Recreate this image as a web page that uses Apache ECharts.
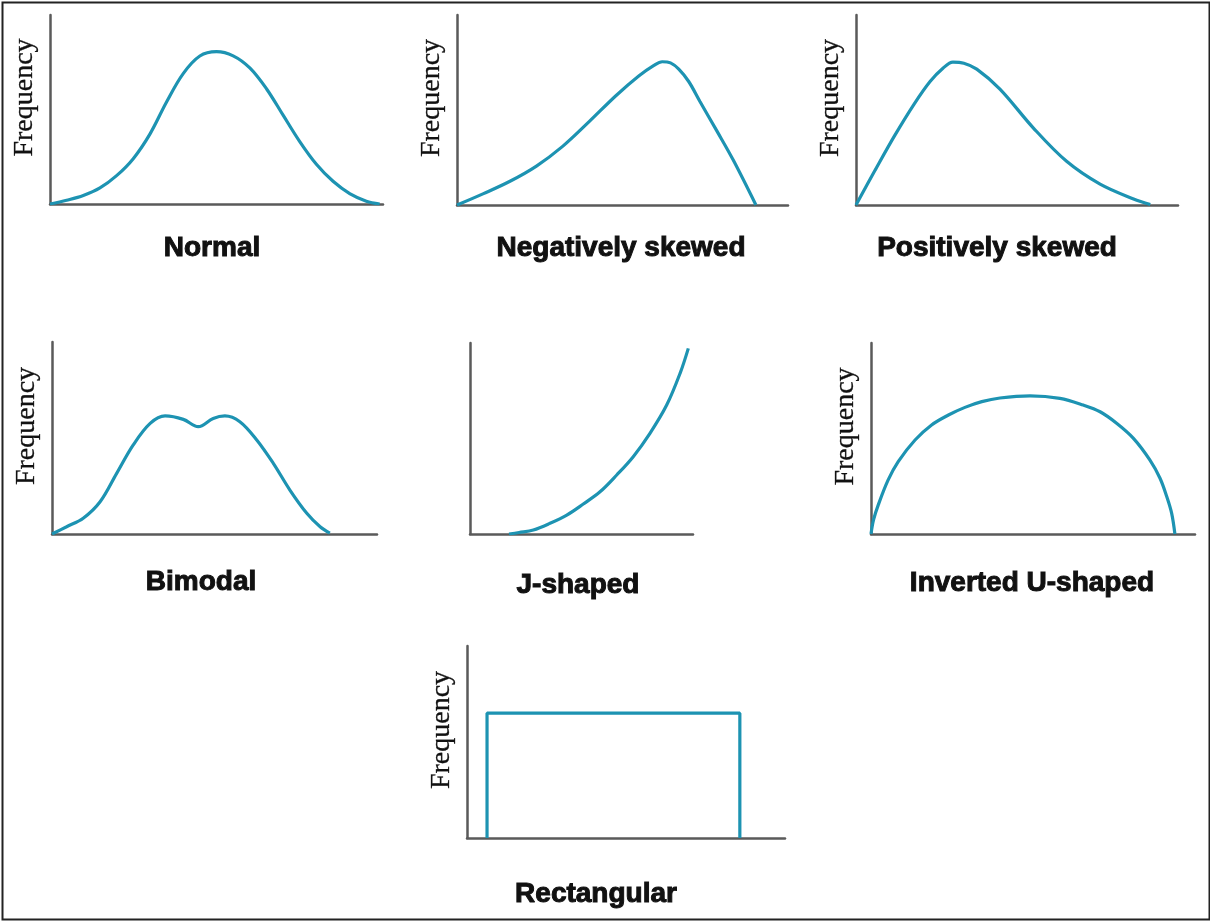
<!DOCTYPE html>
<html>
<head>
<meta charset="utf-8">
<script src="https://cdn.jsdelivr.net/npm/echarts@6/dist/echarts.min.js"></script>
<style>
    html, body { margin: 0; padding: 0; background: #fff; }
    #main { width: 1210px; height: 921px; }
</style>
</head>
<body>
<div id="main"></div>
<script>
// shapes, x and y both on a 0..100 scale of each panel
var normalData = [[0,0],[5,2],[10,4.5],[15,8.5],[20,15],[25,24],[30,37],[35,54],[40,69],[45,78.3],[50,80.6],[55,78.4],[60,72],[65,61],[70,47],[75,33],[80,21],[85,12],[90,5.5],[95,1.5],[99,0]];
var negSkewData = [[0,0],[8,6],[16,12.5],[24,20.5],[32,31],[40,44],[48,57.5],[55,68],[59.5,73.5],[62,75.4],[64.5,74.8],[67,71.5],[70,65],[73.4,54.5],[78.5,39],[83.5,23.5],[90.3,0]];
var posSkewData = [[0,0],[6,18.5],[12,36.5],[18,53],[23,65],[27,72],[30.1,75.2],[33.5,74.6],[37.5,71.5],[44.7,61],[55.1,40.5],[65.4,23],[75.8,11],[86.2,3.2],[91.4,0.3]];
var bimodalData = [[0,0],[4.5,3.8],[9.6,8.2],[14.8,16.8],[19.9,31.6],[25,46.4],[30.2,57.6],[34.8,61.5],[40.4,59.7],[45,55.9],[49.6,60.2],[53.2,61.5],[57.8,58.5],[63,49],[68.1,36.8],[73.2,22.9],[78.4,10.8],[82.5,3.8],[85.5,0.5]];
var jShapedData = [[17.5,0],[22,0.8],[28.4,2.1],[35.9,5.6],[43.4,9.9],[50.8,15.7],[58.3,22.1],[65.8,30.9],[73.2,40.5],[80.7,52.7],[88.2,67.5],[94.2,84.1],[97.9,97.2]];
var invertedUData = [[0,0],[0.8,7.5],[2.3,15.5],[5.3,28.3],[8.4,37.9],[13.6,49.2],[18.7,57.1],[23.9,62.3],[29,66.3],[34.2,69.3],[39.8,71.2],[49.1,72.3],[58.3,71],[65.5,67.5],[70.7,64],[75.8,58],[81,50.1],[86.1,38.7],[89.2,29.2],[91.3,19.5],[92.8,10.8],[93.8,0]];
var rectangularData = [[6.3,0],[6.3,65],[85.8,65],[85.8,0]];

var panelTitles = ['Normal', 'Negatively skewed', 'Positively skewed', 'Bimodal', 'J-shaped', 'Inverted U-shaped', 'Rectangular'];
var yAxisNames = ['Frequency', 'Frequency', 'Frequency', 'Frequency', '', 'Frequency', 'Frequency'];

var panels = [
    { data: normalData,      box: [50, 15, 333, 189],  label: [212, 246],  smooth: 0.35 },
    { data: negSkewData,     box: [457, 15, 331, 190], label: [621, 246],  smooth: 0.35 },
    { data: posSkewData,     box: [856, 15, 322, 190], label: [997, 246],  smooth: 0.35 },
    { data: bimodalData,     box: [52, 342, 325, 192], label: [201, 580],  smooth: 0.35 },
    { data: jShapedData,     box: [470, 343, 223, 191], label: [578, 583], smooth: 0.35 },
    { data: invertedUData,   box: [871, 343, 324, 191], label: [1032, 581], smooth: 0.35 },
    { data: rectangularData, box: [467, 646, 318, 192], label: [596, 892], smooth: false }
];

var curveColor = '#1d93b2';
var axisColor = '#5a5a5a';

var chart = echarts.init(document.getElementById('main'));

var grids = [], xAxes = [], yAxes = [], series = [], titles = [];
panels.forEach(function (p, i) {
    grids.push({ left: p.box[0], top: p.box[1], width: p.box[2], height: p.box[3], containLabel: false });
    xAxes.push({
        type: 'value', gridIndex: i, min: 0, max: 100,
        axisLine: { show: true, lineStyle: { color: axisColor, width: 2.5 } },
        axisTick: { show: false }, axisLabel: { show: false }, splitLine: { show: false }
    });
    yAxes.push({
        type: 'value', gridIndex: i, min: 0, max: 100,
        name: yAxisNames[i], nameLocation: 'middle', nameGap: 11,
        nameTextStyle: {
            fontFamily: 'Liberation Serif', fontSize: 28, color: '#111', padding: [0, 0, 0, 24],
            textBorderColor: '#111', textBorderWidth: 0.3
        },
        axisLine: { show: true, lineStyle: { color: axisColor, width: 2.5 } },
        axisTick: { show: false }, axisLabel: { show: false }, splitLine: { show: false }
    });
    series.push({
        type: 'line', xAxisIndex: i, yAxisIndex: i,
        data: p.data, smooth: p.smooth, symbol: 'none',
        lineStyle: { color: curveColor, width: 3.2 }
    });
    titles.push({
        text: panelTitles[i], left: p.label[0] - 5, top: p.label[1] - 17, textAlign: 'center',
        textStyle: {
            fontFamily: 'Liberation Sans', fontWeight: 'bold', fontSize: 28, color: '#111',
            textBorderColor: '#111', textBorderWidth: 1
        }
    });
});

chart.setOption({
    animation: false,
    backgroundColor: '#fff',
    title: titles,
    grid: grids,
    xAxis: xAxes,
    yAxis: yAxes,
    series: series,
    graphic: [{
        type: 'rect', left: 0, top: 0,
        shape: { x: 1, y: 1, width: 1207, height: 917 },
        style: { fill: 'none', stroke: '#222', lineWidth: 2 }
    }]
});
</script>
</body>
</html>
